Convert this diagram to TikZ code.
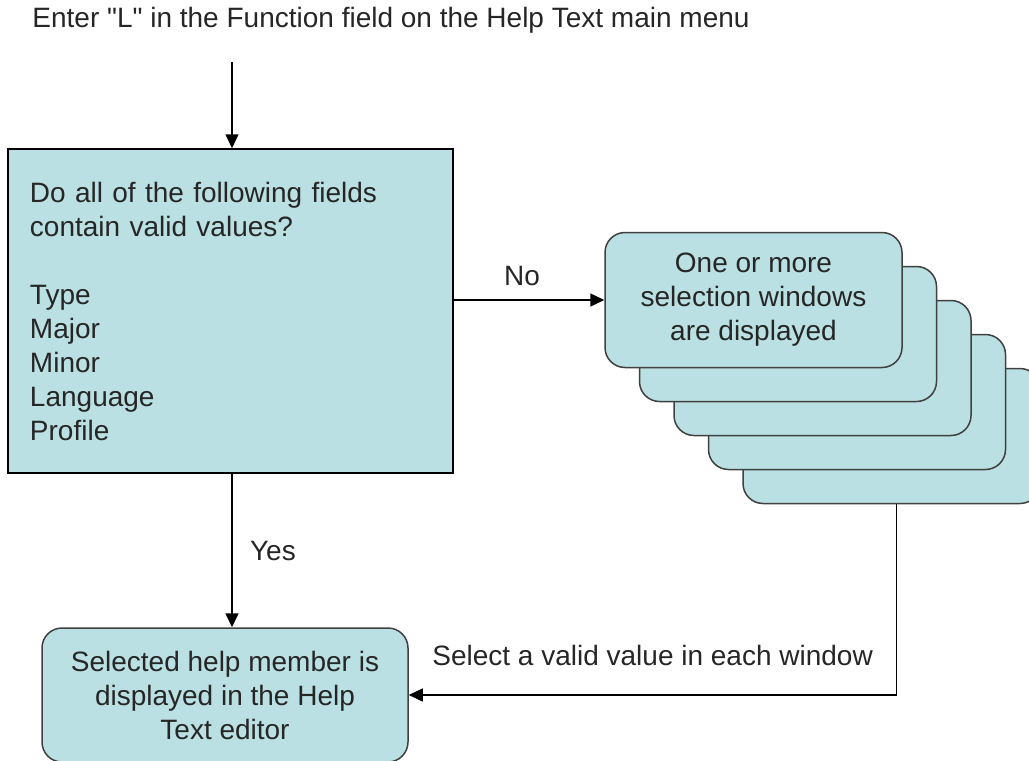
\documentclass[tikz,border=0pt]{standalone}
\usepackage{fontspec}
\setmainfont{Liberation Sans}
\usetikzlibrary{shapes,arrows.meta,positioning}
\definecolor{boxfill}{RGB}{186,224,227}
\definecolor{boxline}{RGB}{64,64,64}
\tikzstyle{every node} = [font=\fontsize{28}{34}\selectfont, text=black!85]
\tikzstyle{check} = [rectangle, draw=black, fill=boxfill, line width=1.5pt,
text width=401pt, inner xsep=22pt, minimum height=324pt, align=left]
\tikzstyle{winbox} = [rectangle, rounded corners=20pt, draw=boxline, fill=boxfill,
line width=1.5pt, minimum width=297pt, minimum height=135pt, align=center]
\tikzstyle{result} = [rectangle, rounded corners=20pt, draw=boxline, fill=boxfill,
line width=1.5pt, minimum width=366pt, minimum height=134pt, align=center]
\tikzstyle{flowArrow} = [line width=1.5pt,-{Triangle[length=14pt,width=13pt]}]

\begin{document}
\begin{tikzpicture}[x=1pt,y=1pt]
		\useasboundingbox (0,0) rectangle (1029,-761);
		%blocks
		\node(intro) at (391,-20){Enter \textquotedbl L\textquotedbl\ in the Function field on the Help Text main menu};
		\node[check](check) at (230.5,-311){Do all of the following fields\\contain valid values?\\[34pt]Type\\Major\\Minor\\Language\\Profile};
		\node[winbox](win5) at (891.5,-436){};
		\node[winbox, xshift=-34.5pt, yshift=34pt](win4) at (win5){};
		\node[winbox, xshift=-34.5pt, yshift=34pt](win3) at (win4){};
		\node[winbox, xshift=-34.5pt, yshift=34pt](win2) at (win3){};
		\node[winbox, xshift=-34.5pt, yshift=34pt](win1) at (win2){One or more\\selection windows\\are displayed};
		\node[result](result) at (225,-695){Selected help member is\\displayed in the Help\\Text editor};
		\coordinate (entry) at (232,-62);

		%arrows
		\draw[flowArrow](entry)--(entry |- check.north);
		\draw[flowArrow](check.east |- win1.west)--(win1.west) node[midway, above=10pt, xshift=-7pt]{No};
		\draw[flowArrow](entry |- check.south)--(entry |- result.north) node[midway, right=14pt]{Yes};
		\draw[flowArrow]([xshift=5pt]win5.south)|-(result.east) node[pos=0.75, above=25pt]{Select a valid value in each window};
	\end{tikzpicture}
\end{document}
